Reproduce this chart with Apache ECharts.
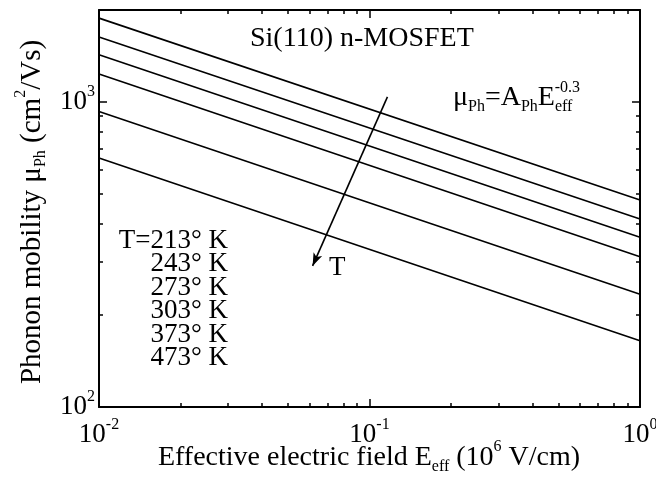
<!DOCTYPE html>
<html>
<head>
<meta charset="utf-8">
<script src="https://cdn.jsdelivr.net/npm/echarts@6/dist/echarts.min.js"></script>
<style>
html, body { margin: 0; padding: 0; background: #fff; }
#chart { width: 656px; height: 485px; }
</style>
</head>
<body>
<div id="chart"></div>
<script>
// 电场 E_eff (10^6 V/cm), 只取两端
var fieldValues = [0.01, 1];
// 温度 (K)
var temps = ['213', '243', '273', '303', '373', '473'];
// 各温度的声子迁移率 (cm^2/Vs)
var mob213 = [1881, 477];
var mob243 = [1630, 413];
var mob273 = [1426, 360];
var mob303 = [1235, 311];
var mob373 = [929, 234];
var mob473 = [655, 165];
// 刻度
var xMajorTicks = [0.01, 0.1, 1];
var xMinorTicks = [0.02, 0.03, 0.04, 0.05, 0.06, 0.07, 0.08, 0.09, 0.2, 0.3, 0.4, 0.5, 0.6, 0.7, 0.8, 0.9];
var yMajorTicks = [100, 1000];
var yMinorTicks = [200, 300, 400, 500, 600, 700, 800, 900, 2000];
// 箭头 (T 增大方向)
var arrowFrom = [0.1165, 1038];
var arrowTo = [0.0616, 290];

var chart = echarts.init(document.getElementById('chart'));
var FONT = 'Liberation Serif';

var allMob = [mob213, mob243, mob273, mob303, mob373, mob473];

// 10^n 形式的刻度标签
function powLabel(v) {
    var e = Math.round(Math.log10(v));
    return '{b|10}{s|' + e + '}';
}
var labelRich = {
    b: { fontFamily: FONT, fontSize: 27, lineHeight: 27, color: '#000' },
    s: { fontFamily: FONT, fontSize: 16, lineHeight: 16, padding: [0, 0, 20, 0], color: '#000' }
};

function makeAxis(pos, ticks, len, withLine, withLabel, isX) {
    return {
        type: 'log',
        logBase: 10,
        position: pos,
        min: isX ? 0.01 : 100,
        max: isX ? 1 : 2000,
        axisLine: { show: withLine, lineStyle: { color: '#000', width: 2 } },
        axisTick: { show: true, inside: true, length: len, customValues: ticks, lineStyle: { color: '#000', width: 1.5 } },
        axisLabel: {
            show: withLabel,
            customValues: ticks,
            formatter: powLabel,
            rich: labelRich,
            margin: isX ? 14 : 4
        },
        splitLine: { show: false },
        minorTick: { show: false }
    };
}

var series = [];
for (var i = 0; i < allMob.length; i++) {
    var pts = [];
    for (var j = 0; j < fieldValues.length; j++) {
        pts.push([fieldValues[j], allMob[i][j]]);
    }
    series.push({
        name: temps[i] + ' K',
        type: 'line',
        data: pts,
        showSymbol: false,
        lineStyle: { color: '#000', width: 1.6 },
        silent: true
    });
}
// 箭头用 markLine 画
series[0].markLine = {
    silent: true,
    symbol: ['none', 'arrow'],
    symbolSize: [7, 13],
    label: { show: false },
    lineStyle: { color: '#000', width: 1.6, type: 'solid' },
    data: [[{ coord: arrowFrom }, { coord: arrowTo }]]
};

function richSet(size) {
    return {
        t: { fontFamily: FONT, fontSize: size, lineHeight: size, color: '#000' },
        d: { fontFamily: FONT, fontSize: 16, lineHeight: 16, padding: [18, 0, 0, 0], color: '#000' },
        u: { fontFamily: FONT, fontSize: 16, lineHeight: 16, padding: [0, 0, 22, 0], color: '#000' }
    };
}

var graphics = [
    {
        type: 'text', x: 250, y: 39,
        style: { text: 'Si(110) n-MOSFET', font: '28px "Liberation Serif"', fill: '#000', verticalAlign: 'middle' }
    },
    // 公式
    {
        type: 'text', x: 453, y: 98,
        style: {
            text: '{t|μ}{d|Ph}{t|=A}{d|Ph}{t|E}{d|eff}',
            rich: richSet(28), verticalAlign: 'middle'
        }
    },
    {
        type: 'text', x: 580, y: 88,
        style: { text: '-0.3', font: '16px "Liberation Serif"', fill: '#000', align: 'right', verticalAlign: 'middle' }
    },
    {
        type: 'text', x: 329, y: 268,
        style: { text: 'T', font: '27px "Liberation Serif"', fill: '#000', verticalAlign: 'middle' }
    },
    // 坐标轴标题
    {
        type: 'text', x: 369, y: 458,
        style: {
            text: '{t|Effective electric field E}{d|eff}{t| (10}{u|6}{t| V/cm)}',
            rich: richSet(28), align: 'center', verticalAlign: 'middle'
        }
    },
    {
        type: 'text', x: 32, y: 212, rotation: Math.PI / 2,
        style: {
            text: '{t|Phonon mobility μ}{d|Ph}{t| (cm}{u|2}{t|/Vs)}',
            rich: richSet(29), align: 'center', verticalAlign: 'middle'
        }
    }
];
// 温度图例文字
for (var k = 0; k < temps.length; k++) {
    graphics.push({
        type: 'text', x: 228, y: 241 + k * 23.4,
        style: {
            text: (k === 0 ? 'T=' : '') + temps[k] + '° K',
            font: '27px "Liberation Serif"', fill: '#000', align: 'right', verticalAlign: 'middle'
        }
    });
}

var option = {
    animation: false,
    backgroundColor: '#fff',
    grid: { left: 99, right: 16, top: 10, bottom: 78, containLabel: false, outerBoundsMode: 'none' },
    xAxis: [
        makeAxis('bottom', xMajorTicks, 8, true, true, true),
        makeAxis('bottom', xMinorTicks, 4, false, false, true),
        makeAxis('top', xMajorTicks, 8, true, false, true),
        makeAxis('top', xMinorTicks, 4, false, false, true)
    ],
    yAxis: [
        makeAxis('left', yMajorTicks, 8, true, true, false),
        makeAxis('left', yMinorTicks, 4, false, false, false),
        makeAxis('right', yMajorTicks, 8, true, false, false),
        makeAxis('right', yMinorTicks, 4, false, false, false)
    ],
    series: series,
    graphic: graphics
};
chart.setOption(option);
</script>
</body>
</html>
